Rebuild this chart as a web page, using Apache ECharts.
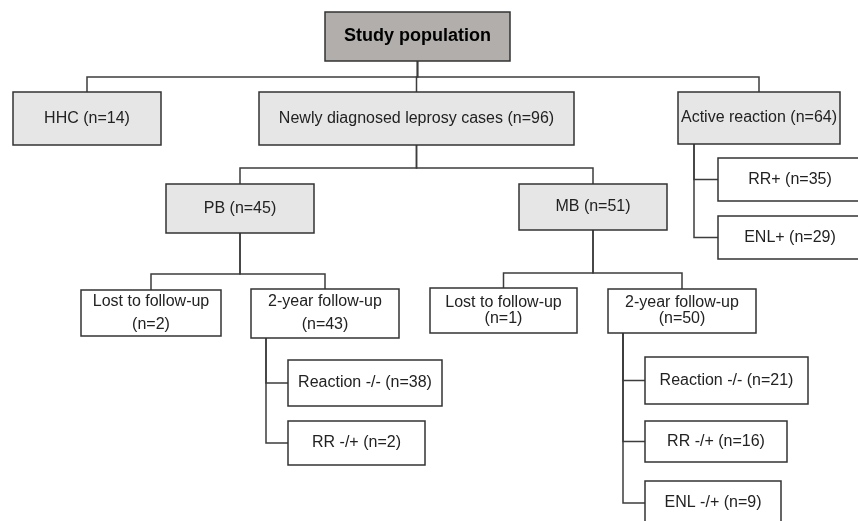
<!DOCTYPE html>
<html>
<head>
    <meta charset="utf-8">
    <script src="https://cdn.jsdelivr.net/npm/echarts@6/dist/echarts.min.js"></script>
    <style>
        html, body { margin: 0; padding: 0; background: #fff; }
        #main { width: 858px; height: 521px; }
    </style>
</head>
<body>
<div id="main"></div>
<script type="text/javascript">
    // node texts and counts
    var labels = ['Study population', 'HHC', 'Newly diagnosed leprosy cases', 'Active reaction',
        'RR+', 'ENL+', 'PB', 'MB',
        'Lost to follow-up', '2-year follow-up', 'Reaction -/-', 'RR -/+',
        'Lost to follow-up', '2-year follow-up', 'Reaction -/-', 'RR -/+', 'ENL -/+'];
    var counts = [null, 14, 96, 64, 35, 29, 45, 51, 2, 43, 38, 2, 1, 50, 21, 16, 9];
    var parents = [-1, 0, 0, 0, 3, 3, 2, 2, 6, 6, 9, 9, 7, 7, 13, 13, 13];
    var twoLine = [8, 9, 12, 13];

    // layout of the boxes in diagram units: [x0, y0, x1, y1]
    var boxes = [
        [325, 12, 510, 61],
        [13, 92, 161, 145], [259, 92, 574, 145], [678, 92, 840, 144],
        [718, 158, 862, 201], [718, 216, 862, 259],
        [166, 184, 314, 233], [519, 184, 667, 230],
        [81, 290, 221, 336], [251, 289, 399, 338], [288, 360, 442, 406], [288, 421, 425, 465],
        [430, 288, 577, 333], [608, 289, 756, 333], [645, 357, 808, 404], [645, 421, 787, 462], [645, 481, 781, 525]
    ];
    // bus line level under a parent (tree style) or trunk x (side style)
    var links = {
        0: {type: 'tree', at: 77},
        2: {type: 'tree', at: 168},
        6: {type: 'tree', at: 274},
        7: {type: 'tree', at: 273},
        3: {type: 'side', at: 694},
        9: {type: 'side', at: 266},
        13: {type: 'side', at: 623}
    };
    var fills = ['#b2aeac', '#e6e6e6', '#e6e6e6', '#e6e6e6', '#fff', '#fff', '#e6e6e6', '#e6e6e6',
        '#fff', '#fff', '#fff', '#fff', '#fff', '#fff', '#fff', '#fff', '#fff'];
    var lineHeights = {8: 23, 9: 23, 12: 16, 13: 16};

    function boxText(i) {
        if (counts[i] == null) return labels[i];
        var n = '(n=' + counts[i] + ')';
        return twoLine.indexOf(i) >= 0 ? labels[i] + '\n' + n : labels[i] + ' ' + n;
    }

    // one polyline per child
    var linkData = [];
    parents.forEach(function (p, i) {
        if (p < 0) return;
        var pb = boxes[p], cb = boxes[i], l = links[p];
        var pts;
        if (l.type === 'tree') {
            var px = (pb[0] + pb[2]) / 2, cx = (cb[0] + cb[2]) / 2;
            pts = [[px, pb[3]], [px, l.at], [cx, l.at], [cx, cb[1]]];
        } else {
            var cy = (cb[1] + cb[3]) / 2;
            pts = [[l.at, pb[3]], [l.at, cy], [cb[0], cy]];
        }
        linkData.push({value: [i], pts: pts});
    });

    var myChart = echarts.init(document.getElementById('main'));
    var option = {
        animation: false,
        grid: {left: 0, right: 0, top: 0, bottom: 0},
        xAxis: {type: 'value', min: 0, max: 858, show: false},
        yAxis: {type: 'value', min: 0, max: 521, inverse: true, show: false},
        series: [
            {
                type: 'custom',
                data: linkData.map(function (d) { return d.value; }),
                renderItem: function (params, api) {
                    var pts = linkData[params.dataIndex].pts.map(function (p) { return api.coord(p); });
                    return {
                        type: 'polyline',
                        shape: {points: pts},
                        style: {stroke: '#3d3d3d', lineWidth: 1.5, fill: null}
                    };
                }
            },
            {
                type: 'custom',
                data: labels.map(function (l, i) { return [i]; }),
                renderItem: function (params, api) {
                    var i = params.dataIndex, b = boxes[i];
                    var p0 = api.coord([b[0], b[1]]), p1 = api.coord([b[2], b[3]]);
                    return {
                        type: 'group',
                        children: [
                            {
                                type: 'rect',
                                shape: {x: p0[0], y: p0[1], width: p1[0] - p0[0], height: p1[1] - p0[1]},
                                style: {fill: fills[i], stroke: '#333', lineWidth: 1.5}
                            },
                            {
                                type: 'text',
                                x: (p0[0] + p1[0]) / 2,
                                y: (p0[1] + p1[1]) / 2,
                                style: {
                                    text: boxText(i),
                                    align: 'center',
                                    verticalAlign: 'middle',
                                    fontFamily: 'Liberation Sans, Arial, sans-serif',
                                    fontSize: i === 0 ? 18 : 16,
                                    fontWeight: i === 0 ? 'bold' : 'normal',
                                    lineHeight: lineHeights[i] || 20,
                                    fill: i === 0 ? '#000' : '#222'
                                }
                            }
                        ]
                    };
                }
            }
        ]
    };
    myChart.setOption(option);
</script>
</body>
</html>
